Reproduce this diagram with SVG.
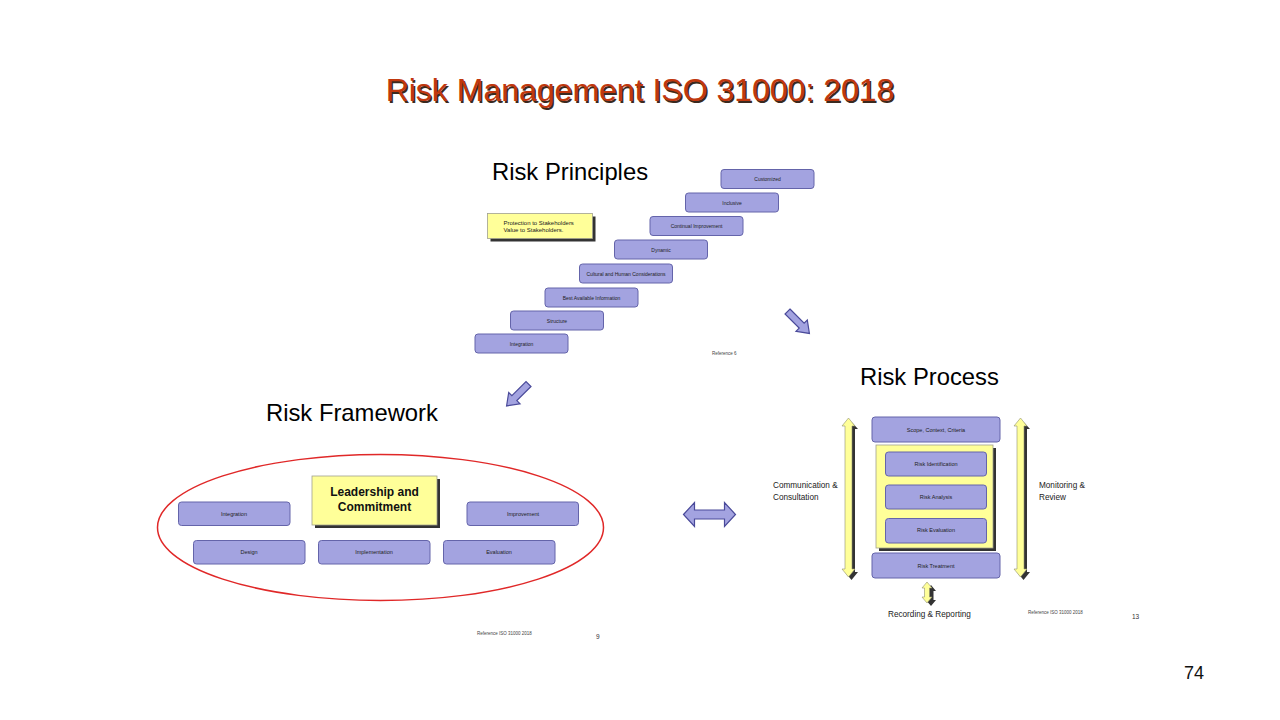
<svg xmlns="http://www.w3.org/2000/svg" width="1280" height="720" viewBox="0 0 1280 720">
<style>
text{font-family:"Liberation Sans",Arial,sans-serif;}
.box{fill:#A3A3E0;stroke:#6464AA;stroke-width:1;}
.yel{fill:#FFFF99;stroke:#A0A090;stroke-width:0.8;}
.shd{fill:#333333;}
.t5{font-size:5px;fill:#222;text-anchor:middle;}
.t55{font-size:5.5px;fill:#222;text-anchor:middle;}
.hd{font-size:23.8px;fill:#000;}
.blk{fill:#A3A3E0;stroke:#4A4A9A;stroke-width:1.2;}
.ya{fill:#FFFF99;stroke:#909070;stroke-width:0.6;}
.lbl{font-size:8.2px;fill:#222;}
.ref{font-size:4.5px;fill:#444;}
</style>
<rect width="1280" height="720" fill="#FFFFFF"/>

<g id="title">
<text x="641.5" y="102.5" font-size="32" fill="#3A2A20" text-anchor="middle">Risk Management ISO 31000: 2018</text>
<text x="640" y="101" font-size="32" fill="#C0380E" text-anchor="middle">Risk Management ISO 31000: 2018</text>
</g>

<g id="principles">
<text class="hd" x="492" y="180">Risk Principles</text>
<g id="p-customized"><rect class="box" x="721" y="169.5" width="93" height="19" rx="3"/><text class="t5" x="767.5" y="181">Customized</text></g>
<g id="p-inclusive"><rect class="box" x="685.5" y="193" width="93" height="19" rx="3"/><text class="t5" x="732" y="204.5">Inclusive</text></g>
<g id="p-continual"><rect class="box" x="650" y="216.5" width="93" height="19" rx="3"/><text class="t5" x="696.5" y="228">Continual Improvement</text></g>
<g id="p-dynamic"><rect class="box" x="614.5" y="240" width="93" height="19" rx="3"/><text class="t5" x="661" y="251.5">Dynamic</text></g>
<g id="p-cultural"><rect class="box" x="579.5" y="264" width="93" height="19" rx="3"/><text class="t5" x="626" y="275.5">Cultural and Human Considerations</text></g>
<g id="p-best"><rect class="box" x="545" y="288" width="93" height="19" rx="3"/><text class="t5" x="591.5" y="299.5">Best Available Information</text></g>
<g id="p-structure"><rect class="box" x="510.5" y="311" width="93" height="19" rx="3"/><text class="t5" x="557" y="322.5">Structure</text></g>
<g id="p-integration"><rect class="box" x="475" y="334" width="93" height="19" rx="3"/><text class="t5" x="521.5" y="345.5">Integration</text></g>
<g id="p-protection">
<rect class="shd" x="490.5" y="216.5" width="105" height="25"/>
<rect class="yel" x="487.5" y="213.5" width="105" height="25"/>
<text x="503.5" y="224.5" font-size="6" fill="#222">Protection to Stakeholders</text>
<text x="503.5" y="231.5" font-size="6" fill="#222">Value to Stakeholders.</text>
</g>
<text class="ref" x="712" y="354.5">Reference 6</text>
</g>

<g id="framework">
<text class="hd" x="266" y="421">Risk Framework</text>
<ellipse cx="380.5" cy="527.5" rx="223" ry="73" fill="none" stroke="#E02828" stroke-width="1.5"/>
<g id="f-integration"><rect class="box" x="178.5" y="502" width="111.5" height="23.5" rx="3"/><text class="t55" x="234" y="515.5">Integration</text></g>
<g id="f-improvement"><rect class="box" x="467" y="502" width="111.5" height="23.5" rx="3"/><text class="t55" x="523" y="515.5">Improvement</text></g>
<g id="f-design"><rect class="box" x="193.5" y="540.5" width="111.5" height="23.5" rx="3"/><text class="t55" x="249" y="554">Design</text></g>
<g id="f-implementation"><rect class="box" x="318.5" y="540.5" width="111.5" height="23.5" rx="3"/><text class="t55" x="374" y="554">Implementation</text></g>
<g id="f-evaluation"><rect class="box" x="443.5" y="540.5" width="111.5" height="23.5" rx="3"/><text class="t55" x="499" y="554">Evaluation</text></g>
<g id="f-leadership">
<rect class="shd" x="315" y="479" width="125" height="49"/>
<rect class="yel" x="312" y="476" width="125" height="49"/>
<text x="374.5" y="496" font-size="12" font-weight="bold" fill="#111" text-anchor="middle">Leadership and</text>
<text x="374.5" y="511" font-size="12" font-weight="bold" fill="#111" text-anchor="middle">Commitment</text>
</g>
<text class="ref" x="477" y="635">Reference ISO 31000  2018</text>
<text x="596" y="639" font-size="6.5" fill="#333">9</text>
</g>

<g id="process">
<text class="hd" x="860" y="385">Risk Process</text>
<g id="r-scope"><rect class="box" x="872" y="417" width="128" height="25" rx="3"/><text class="t55" x="936" y="431.5">Scope, Context, Criteria</text></g>
<g id="r-container">
<rect class="shd" x="879" y="448" width="117" height="103"/>
<rect class="yel" x="876" y="445" width="117" height="103"/>
</g>
<g id="r-identification"><rect class="box" x="885.5" y="452" width="101" height="24" rx="3"/><text class="t55" x="936" y="465.5">Risk Identification</text></g>
<g id="r-analysis"><rect class="box" x="885.5" y="485" width="101" height="24" rx="3"/><text class="t55" x="936" y="498.5">Risk Analysis</text></g>
<g id="r-evaluation"><rect class="box" x="885.5" y="518.5" width="101" height="24.5" rx="3"/><text class="t55" x="936" y="532">Risk Evaluation</text></g>
<g id="r-treatment"><rect class="box" x="872" y="553" width="128" height="25" rx="3"/><text class="t55" x="936" y="567.5">Risk Treatment</text></g>
<g id="r-comm">
<text class="lbl" x="773" y="488">Communication &amp;</text>
<text class="lbl" x="773" y="499.5">Consultation</text>
</g>
<g id="r-monitor">
<text class="lbl" x="1039" y="488">Monitoring &amp;</text>
<text class="lbl" x="1039" y="499.5">Review</text>
</g>
<text x="888" y="617" font-size="8.2" fill="#222">Recording &amp; Reporting</text>
<text class="ref" x="1028" y="614">Reference ISO 31000  2018</text>
<text x="1132" y="618.5" font-size="6.5" fill="#333">13</text>
</g>

<g id="connectors">
<path class="blk" d="M0,-3.5 L20,-3.5 L20,-8 L31,0 L20,8 L20,3.5 L0,3.5 Z" transform="translate(787.5,311.5) rotate(45)"/>
<path class="blk" d="M0,-3.5 L20,-3.5 L20,-8 L31,0 L20,8 L20,3.5 L0,3.5 Z" transform="translate(528.5,384) rotate(135)"/>
<path class="blk" d="M683.5,514.5 L694.5,502.5 L694.5,510 L724.5,510 L724.5,502.5 L735.5,514.5 L724.5,526.5 L724.5,519 L694.5,519 L694.5,526.5 Z"/>
<g transform="translate(848.5,0)">
<path class="shd" d="M3,422 L9.5,429 L6.5,429 L6.5,572 L9.5,572 L3,580 L-3.5,572 L-0.5,572 L-0.5,429 L-3.5,429 Z"/>
<path class="ya" d="M0,418 L6.5,426 L3.5,426 L3.5,569 L6.5,569 L0,577 L-6.5,569 L-3.5,569 L-3.5,426 L-6.5,426 Z"/>
</g>
<g transform="translate(1020.5,0)">
<path class="shd" d="M3,422 L9.5,429 L6.5,429 L6.5,572 L9.5,572 L3,580 L-3.5,572 L-0.5,572 L-0.5,429 L-3.5,429 Z"/>
<path class="ya" d="M0,418 L6.5,426 L3.5,426 L3.5,569 L6.5,569 L0,577 L-6.5,569 L-3.5,569 L-3.5,426 L-6.5,426 Z"/>
</g>
<g transform="translate(927,0)">
<path class="shd" d="M4,585 L9,591 L6.5,591 L6.5,600 L9,600 L4,606 L-1,600 L1.5,600 L1.5,591 L-1,591 Z"/>
<path class="ya" d="M0,582 L5,588 L2.5,588 L2.5,597 L5,597 L0,603 L-5,597 L-2.5,597 L-2.5,588 L-5,588 Z"/>
</g>
</g>

<text x="1184" y="679" font-size="18" fill="#111">74</text>
</svg>
